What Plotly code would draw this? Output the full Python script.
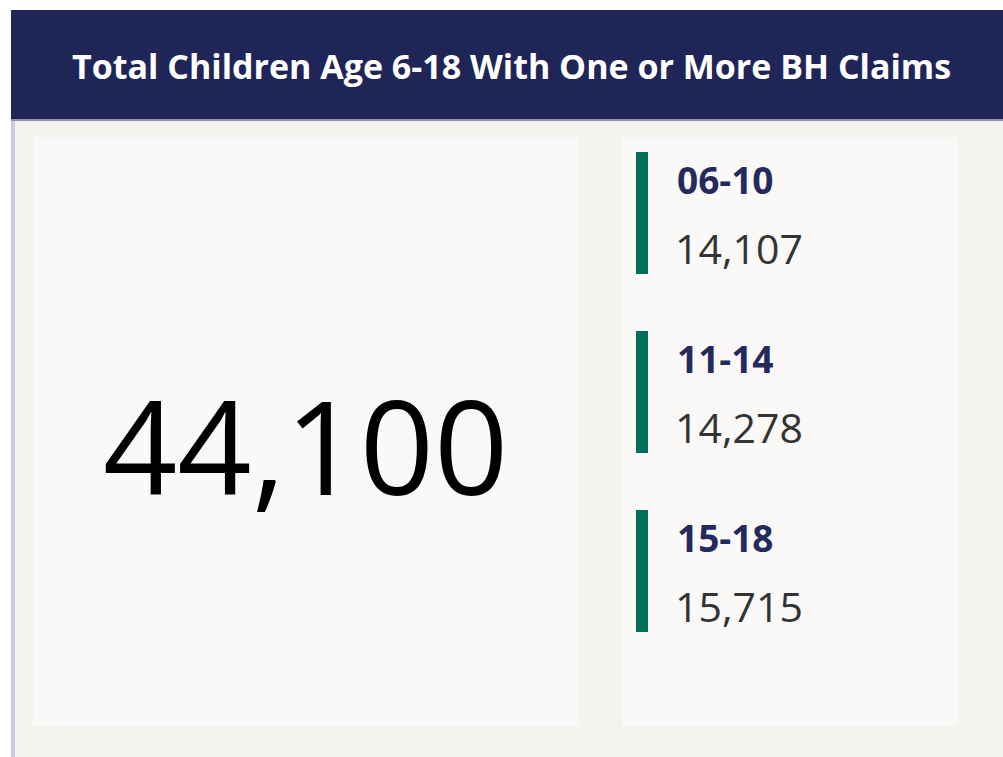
import plotly.graph_objects as go

# card data
title = "Total Children Age 6-18 With One or More BH Claims"
age_groups = ["06-10", "11-14", "15-18"]
child_counts = [14107, 14278, 15715]
total_children = 44100

NAVY = "#1F2557"
GREEN = "#00705A"
BG = "#F4F3EF"
CARD = "#FAF9F7"
FONT = "Open Sans"

W, H = 1003, 757

fig = go.Figure()

# invisible trace so the axes (used as a pixel grid) exist
fig.add_trace(go.Scatter(x=[0, W], y=[0, H], mode="markers",
                         marker=dict(opacity=0), hoverinfo="skip", showlegend=False))

shapes = [
    # page background below the header
    dict(type="rect", x0=11, x1=W, y0=120, y1=H, fillcolor=BG, line_width=0, layer="below"),
    # thin left border
    dict(type="rect", x0=11, x1=15, y0=120, y1=H, fillcolor="#C9CDD8", line_width=0, layer="below"),
    # header band
    dict(type="rect", x0=11, x1=W, y0=10, y1=120, fillcolor=NAVY, line_width=0, layer="below"),
    dict(type="rect", x0=11, x1=W, y0=119, y1=121, fillcolor="#9296A8", line_width=0, layer="below"),
    # left card (total) and right card (breakdown)
    dict(type="rect", x0=33, x1=579, y0=137, y1=726, fillcolor=CARD, line_width=0, layer="below"),
    dict(type="rect", x0=622, x1=957, y0=137, y1=726, fillcolor=CARD, line_width=0, layer="below"),
]

annotations = [
    dict(x=511, y=66, text="<b>" + title + "</b>", showarrow=False,
         font=dict(family=FONT, size=34, color="white"), xanchor="center", yanchor="middle"),
    dict(x=305, y=444, text=f"{total_children:,}", showarrow=False,
         font=dict(family=FONT, size=130, color="black"), xanchor="center", yanchor="middle"),
]

row_top = 152
row_step = 179
for i, (grp, cnt) in enumerate(zip(age_groups, child_counts)):
    top = row_top + i * row_step
    shapes.append(dict(type="rect", x0=636, x1=648, y0=top, y1=top + 122,
                       fillcolor=GREEN, line_width=0))
    annotations.append(dict(x=675, y=top + 27, text="<b>" + grp + "</b>", showarrow=False,
                            font=dict(family=FONT, size=37, color="#252A5E"),
                            xanchor="left", yanchor="middle"))
    annotations.append(dict(x=673, y=top + 96, text=f"{cnt:,}", showarrow=False,
                            font=dict(family=FONT, size=41, color="#333333"),
                            xanchor="left", yanchor="middle"))

fig.update_layout(
    width=W, height=H,
    margin=dict(l=0, r=0, t=0, b=0),
    paper_bgcolor="white", plot_bgcolor="white",
    xaxis=dict(range=[0, W], visible=False, fixedrange=True),
    yaxis=dict(range=[H, 0], visible=False, fixedrange=True),
    shapes=shapes,
    annotations=annotations,
    showlegend=False,
)

# drop the browser's default body margin so the figure sits at the top-left corner
fig.write_html("out.html", config={"displayModeBar": False},
               post_script="document.body.style.margin='0px';")
